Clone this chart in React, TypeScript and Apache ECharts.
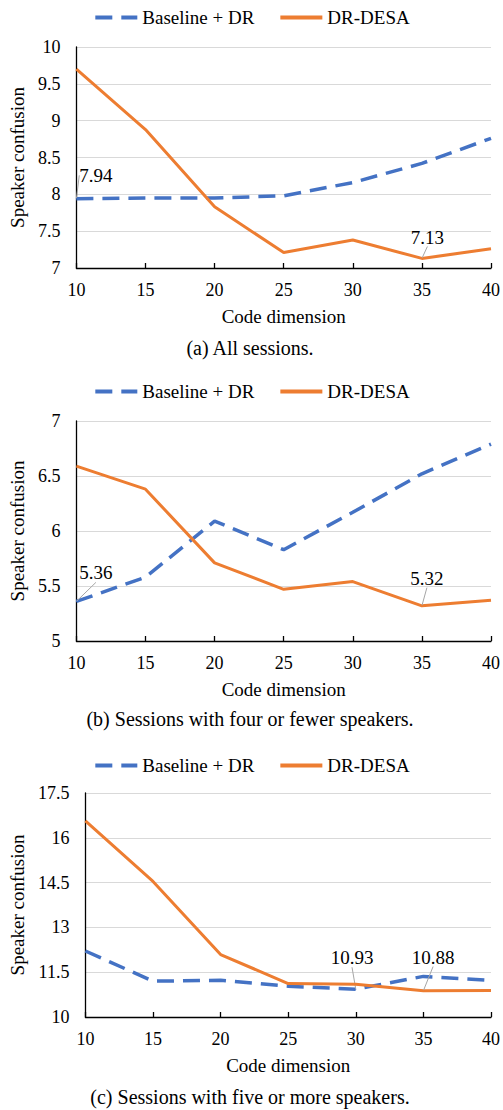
import React, { useEffect, useRef } from "react";
import * as echarts from "echarts";

// ---- data ----
const codeDims = [10, 15, 20, 25, 30, 35, 40];
const seriesNames = ["Baseline + DR", "DR-DESA"];

const allBaseline = [7.94, 7.95, 7.95, 7.98, 8.16, 8.42, 8.76];
const allDesa = [9.7, 8.88, 7.83, 7.21, 7.38, 7.13, 7.26];

const fewBaseline = [5.36, 5.58, 6.09, 5.83, 6.17, 6.52, 6.79];
const fewDesa = [6.59, 6.38, 5.71, 5.47, 5.54, 5.32, 5.37];

const manyBaseline = [12.21, 11.2, 11.23, 11.03, 10.93, 11.36, 11.23];
const manyDesa = [16.57, 14.54, 12.09, 11.12, 11.1, 10.88, 10.89];

const captions = [
  "(a) All sessions.",
  "(b) Sessions with four or fewer speakers.",
  "(c) Sessions with five or more speakers.",
];
const yMins = [7, 5, 10];
const yMaxs = [10, 7, 17.5];
const yIntervals = [0.5, 0.5, 1.5];
// index of the annotated point in each series
const labelIdx = [
  [0, 5],
  [0, 5],
  [4, 5],
];

// ---- styles / layout ----
const FONT = "Liberation Serif";
const BLUE = "#4472C4";
const ORANGE = "#ED7D31";
const grids = [
  { left: 69, right: 11, top: 47, height: 221 },
  { left: 69, right: 11, top: 421, height: 220 },
  { left: 78, right: 11, top: 793, height: 224 },
];
const legendTops = [3, 377, 751];
const captionYs = [347.5, 719, 1097.3];
const yNameGaps = [47, 47, 56];
const labelShifts = [
  [{ dx: 19.5, dy: -8.4 }, { dx: 5.5, dy: -6.4 }],
  [{ dx: 19.5, dy: -13.5 }, { dx: 5, dy: -12.6 }],
  [{ dx: -3.8, dy: -16.5 }, { dx: 9.7, dy: -18.7 }],
];

const panelData = [
  [allBaseline, allDesa],
  [fewBaseline, fewDesa],
  [manyBaseline, manyDesa],
];

export default function App() {
  const ref = useRef<HTMLDivElement>(null);
  useEffect(() => {
    if (!ref.current) return;
    const chart = echarts.init(ref.current, undefined, { renderer: "svg" });

    const xAxis: any[] = [];
    const yAxis: any[] = [];
    const series: any[] = [];
    const legend: any[] = [];
    const graphic: any[] = [];

    for (let p = 0; p < 3; p++) {
      xAxis.push({
        type: "value",
        gridIndex: p,
        min: 10,
        max: 40,
        interval: 5,
        name: "Code dimension",
        nameLocation: "middle",
        nameGap: 39,
        nameTextStyle: { fontFamily: FONT, fontSize: 19, color: "#000" },
        axisLine: { show: true, lineStyle: { color: "#000", width: 1.3 } },
        axisTick: { show: true, inside: true, length: 5, lineStyle: { color: "#000", width: 1.3 } },
        axisLabel: { fontFamily: FONT, fontSize: 18, color: "#000", margin: 13 },
        splitLine: { show: false },
      });
      yAxis.push({
        type: "value",
        gridIndex: p,
        min: yMins[p],
        max: yMaxs[p],
        interval: yIntervals[p],
        name: "Speaker confusion",
        nameLocation: "middle",
        nameGap: yNameGaps[p],
        nameTextStyle: { fontFamily: FONT, fontSize: 19, color: "#000" },
        axisLine: { show: true, lineStyle: { color: "#000", width: 1.3 } },
        axisTick: { show: false },
        axisLabel: { fontFamily: FONT, fontSize: 18, color: "#000", margin: 16 },
        splitLine: { show: true, lineStyle: { color: "#d9d9d9", width: 1 } },
      });
      legend.push({
        data: seriesNames,
        top: legendTops[p],
        left: "center",
        itemWidth: 42,
        itemHeight: 20,
        itemGap: 24,
        itemStyle: { opacity: 0, borderWidth: 0 },
        lineStyle: { width: 4 },
        textStyle: { fontFamily: FONT, fontSize: 19, color: "#000" },
        selectedMode: false,
      });
      graphic.push({
        type: "text",
        x: 250,
        y: captionYs[p],
        style: {
          text: captions[p],
          fontFamily: FONT,
          fontSize: 20,
          fill: "#000",
          align: "center",
          verticalAlign: "middle",
        },
      });
      for (let s = 0; s < 2; s++) {
        const vals = panelData[p][s];
        const li = labelIdx[p][s];
        series.push({
          type: "line",
          name: seriesNames[s],
          xAxisIndex: p,
          yAxisIndex: p,
          symbol: "none",
          color: s === 0 ? BLUE : ORANGE,
          lineStyle:
            s === 0
              ? { color: BLUE, width: 3.5, type: [17, 9] }
              : { color: ORANGE, width: 3 },
          label: {
            show: false,
            position: "top",
            distance: 5,
            fontFamily: FONT,
            fontSize: 19,
            color: "#000",
            formatter: (q: any) => String(q.value[1]),
          },
          labelLine: { show: false, lineStyle: { color: "#a6a6a6", width: 1 } },
          labelLayout: labelShifts[p][s],
          data: codeDims.map((x, i) =>
            i === li
              ? {
                  value: [x, vals[i]],
                  symbol: "circle",
                  symbolSize: 1,
                  label: { show: true },
                  labelLine: { show: true, lineStyle: { color: "#a6a6a6", width: 1 } },
                }
              : { value: [x, vals[i]] }
          ),
          z: s === 0 ? 2 : 3,
        });
      }
    }

    chart.setOption({
      animation: false,
      backgroundColor: "#fff",
      grid: grids,
      xAxis,
      yAxis,
      legend,
      series,
      graphic,
    });
    return () => chart.dispose();
  }, []);
  return (
    <div
      ref={ref}
      style={{ position: "absolute", left: 0, top: 0, width: 503, height: 1110 }}
    />
  );
}
